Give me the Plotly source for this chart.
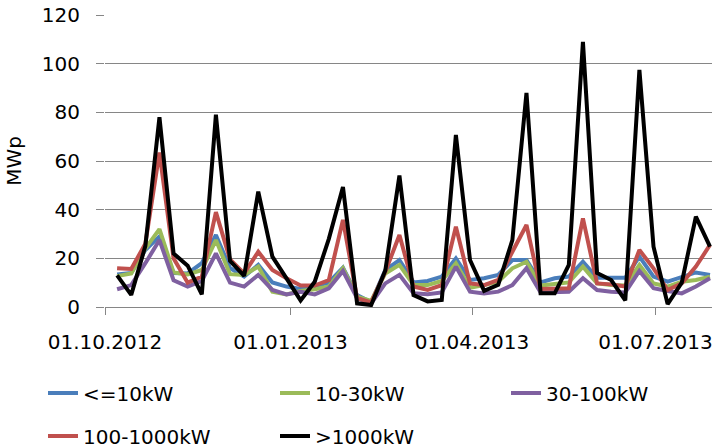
import plotly.graph_objects as go
import pandas as pd

start_date = "2012-10-07"
n_weeks = 43
dates = pd.date_range(start_date, periods=n_weeks, freq="7D")

series_names = ["<=10kW", "10-30kW", "30-100kW", "100-1000kW", ">1000kW"]

le10 = [13.4, 14, 23.4, 29, 14, 13.8, 18, 29.6, 16, 12.5, 17.3, 10.1, 8.4, 7.4, 8.4, 10.1, 16.2,
        4.9, 1.9, 15.2, 19.3, 10.1, 10.7, 12.5, 20, 11.1, 11.8, 13.2, 19.3, 19.3, 10.1, 11.8, 12.5,
        18.6, 12, 11.8, 12, 20.7, 12.5, 10.4, 12.5, 14.2, 13.2]
k10_30 = [12.7, 13.8, 24, 32, 14.2, 13.4, 15.2, 27.5, 13.5, 13.2, 16.6, 6.3, 5.2, 6.6, 7.3, 8.4, 15.9,
          4.2, 2.5, 13.8, 17.3, 9, 9, 10.7, 18, 7.9, 9, 10.4, 15.9, 18.6, 8.8, 9.3, 10.1,
          16.6, 9.7, 9, 8.8, 17.3, 9.7, 8.4, 10.4, 11.1, 12.5]
k30_100 = [7.3, 9, 18, 27.5, 11, 8.4, 10.7, 22, 10, 8.4, 13.2, 7, 5.2, 6.3, 5.2, 7.7, 14.8,
           3.6, 1.5, 9.7, 13.2, 5.6, 5.2, 6, 16.6, 6.3, 5.6, 6.3, 9, 15.9, 6, 6, 6.3,
           11.8, 7, 6.3, 6, 14.8, 7.7, 6.6, 5.6, 8.4, 11.8]
k100_1000 = [15.9, 15.6, 26, 63.5, 20, 10, 12.5, 39, 19.5, 13.8, 22.7, 15.2, 11.8, 8.8, 8.8, 11.1, 35.8,
             3.6, 1.9, 14.5, 29.6, 8.4, 7, 9, 33, 9.7, 9, 11.1, 22.7, 33.7, 7.4, 7.4, 7.7,
             36.4, 9.7, 9.3, 8.4, 23.4, 15.9, 7, 9.7, 16.6, 25.5]
gt1000 = [13, 5, 25, 78, 22, 17, 5.2, 79, 19, 12.8, 47.4, 20.7, 11.8, 2.7, 10.4, 28, 49.3,
          1.5, 0.8, 15, 54, 4.9, 2.3, 2.9, 70.7, 19.3, 6.6, 9.1, 27.5, 88, 5.6, 5.6, 17.3,
          109, 14, 11.1, 2.7, 97.4, 24.8, 1.2, 10, 37.1, 24.8]

x_tickvals = ["2012-10-01", "2013-01-01", "2013-04-01", "2013-07-01"]
x_ticktext = ["01.10.2012", "01.01.2013", "01.04.2013", "01.07.2013"]
y_tickvals = [0, 20, 40, 60, 80, 100, 120]

colors = ["#4A7EBB", "#9BBB59", "#7F60A0", "#C0504D", "#000000"]
values = [le10, k10_30, k30_100, k100_1000, gt1000]

FONT = "DejaVu Sans"
FS = 20

# plot area in pixels: left 105, right 712, top 15, bottom 307
PL, PR, PT, PB = 105, 712, 15, 307
def px_x(p):
    return (p - PL) / (PR - PL)
def px_y(p):
    return (PB - p) / (PB - PT)

legend_pos = [(43, 393), (275, 393), (506, 393), (43, 436), (275, 436)]
legend_ids = ["legend", "legend2", "legend3", "legend4", "legend5"]

fig = go.Figure()
for name, vals, col, lg in zip(series_names, values, colors, legend_ids):
    fig.add_trace(go.Scatter(x=dates, y=vals, name=name, mode="lines",
                             line=dict(color=col, width=4), legend=lg))

layout_legends = {}
for lg, (lx, ly) in zip(legend_ids, legend_pos):
    layout_legends[lg] = dict(x=px_x(lx), y=px_y(ly), xanchor="left", yanchor="middle",
                              orientation="h", font=dict(size=FS), bgcolor="rgba(0,0,0,0)",
                              itemwidth=30)

fig.update_layout(
    width=716, height=448,
    margin=dict(l=PL, r=716 - PR, t=PT, b=448 - PB, autoexpand=False),
    paper_bgcolor="white", plot_bgcolor="white",
    font=dict(family=FONT, size=FS, color="#000000"),
    showlegend=True,
    **layout_legends,
)
fig.update_xaxes(type="date", range=["2012-10-01", "2013-07-29"],
                 tickvals=x_tickvals, ticktext=x_ticktext, tickangle=0,
                 showgrid=False, showline=True, linecolor="#868686", linewidth=1,
                 ticks="outside", ticklen=7, tickcolor="#868686", zeroline=False,
                 ticklabelstandoff=10, automargin=False)
fig.update_yaxes(range=[0, 120], tickvals=y_tickvals, showgrid=True, gridcolor="#868686",
                 gridwidth=1, ticks="outside", ticklen=8, tickcolor="#868686",
                 showline=False, zeroline=False, automargin=False, ticklabelstandoff=12,
                 title=dict(text="MWp", standoff=14, font=dict(size=FS)))

fig.write_html("out.html", config={"displayModeBar": False},
               post_script="document.body.style.margin='0';")
